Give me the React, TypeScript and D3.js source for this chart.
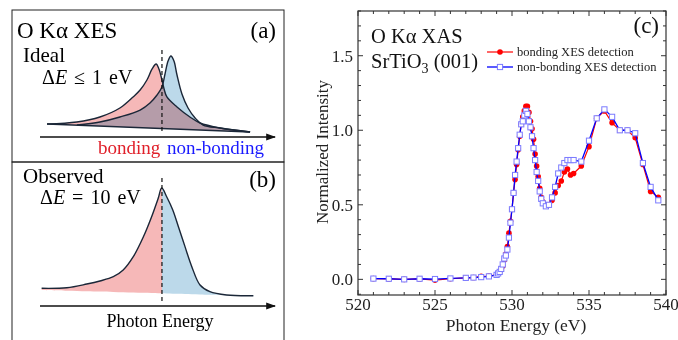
import * as d3 from "d3";

// ---- panel (c): O K-edge XAS ----
const energy = [
  521, 522, 523, 524, 525, 526, 527, 527.5, 528, 528.5,
  529, 529.1, 529.2, 529.3, 529.4, 529.5, 529.6, 529.7, 529.8, 529.9,
  530, 530.1, 530.2, 530.3, 530.4, 530.5, 530.6, 530.7, 530.8, 530.9,
  531, 531.1, 531.2, 531.3, 531.4, 531.5, 531.6, 531.7, 531.8, 531.9,
  532, 532.2, 532.4, 532.6, 532.8, 533, 533.2, 533.4, 533.6, 533.8,
  534, 534.5, 535, 535.5, 536, 536.5, 537, 537.5, 538, 538.5,
  539, 539.5,
];
const bondingXES = [
  0.005, 0.003, 0.0, 0.003, -0.005, 0.004, 0.01, 0.012, 0.02, 0.022,
  0.03, 0.04, 0.05, 0.07, 0.09, 0.13, 0.17, 0.22, 0.31, 0.39,
  0.47, 0.58, 0.67, 0.77, 0.87, 0.96, 1.04, 1.09, 1.13, 1.16,
  1.16, 1.12, 1.06, 1.01, 0.94, 0.84, 0.76, 0.69, 0.61, 0.55,
  0.52, 0.5, 0.5, 0.53, 0.58, 0.63, 0.66, 0.72, 0.74, 0.7,
  0.71, 0.76, 0.89, 1.08, 1.13, 1.05, 1.0, 1.0, 0.95, 0.77,
  0.59, 0.55,
];
const nonBondingXES = [
  0.005, 0.004, 0.0, 0.004, 0.002, 0.006, 0.01, 0.012, 0.015, 0.02,
  0.03, 0.04, 0.05, 0.07, 0.1, 0.14, 0.16, 0.2, 0.28, 0.38,
  0.47, 0.58, 0.7, 0.79, 0.88, 0.97, 1.04, 1.06, 1.1, 1.13,
  1.11, 1.06, 1.02, 0.96, 0.88, 0.8, 0.72, 0.66, 0.59, 0.54,
  0.51, 0.49, 0.5, 0.55, 0.62, 0.71, 0.75, 0.78, 0.8, 0.8,
  0.8, 0.79, 0.93, 1.08, 1.14, 1.09, 1.0, 1.0, 0.98, 0.78,
  0.62, 0.53,
];
const xTicks = [520, 525, 530, 535, 540];
const yTicks = [0, 0.5, 1.0, 1.5];
const yTickLabels = ["0.0", "0.5", "1.0", "1.5"];

// ---- panels (a)/(b): schematic emission lines, [energy, intensity] ----
const idealBonding: [number, number][] = [
  [3.0, 0.16], [15.7, 0.185], [25.5, 0.247], [34.0, 0.358], [39.6, 0.494],
  [42.6, 0.58], [45.5, 0.704], [47.7, 0.84], [49.4, 0.901], [50.6, 0.84],
  [51.9, 0.704], [52.8, 0.593], [54.0, 0.494], [58.3, 0.37], [63.8, 0.247],
  [68.1, 0.173], [76.6, 0.111], [89.4, 0.062],
];
const idealNonBonding: [number, number][] = [
  [15.7, 0.148], [25.5, 0.185], [34.0, 0.247], [42.6, 0.333], [46.8, 0.42],
  [49.8, 0.519], [51.9, 0.617], [53.2, 0.778], [54.5, 0.938], [55.7, 1.0],
  [57.0, 0.938], [58.3, 0.765], [60.4, 0.531], [63.0, 0.358], [66.0, 0.235],
  [69.4, 0.148], [76.6, 0.111], [89.4, 0.062],
];
const idealBase: [number, number][] = [[3.0, 0.16], [89.4, 0.062]];
const observed: [number, number][] = [
  [0.7, 0.15], [11.4, 0.155], [19.9, 0.186], [25.5, 0.212], [31.2, 0.248],
  [35.4, 0.305], [39.7, 0.418], [44.0, 0.587], [47.5, 0.757], [50.3, 0.913],
  [51.8, 1.0], [53.9, 0.926], [56.5, 0.814], [58.9, 0.672], [61.7, 0.503],
  [64.6, 0.333], [68.1, 0.178], [72.3, 0.121], [79.4, 0.093], [90.8, 0.087],
];
const observedBase: [number, number][] = [[0.7, 0.136], [90.8, 0.085]];
const splitEnergy = 51.9;

const FONT = "'Liberation Serif', 'Times New Roman', serif";
const OUTLINE = "#1b2738";

function Schematic() {
  const sx = d3.scaleLinear().domain([0, 100]).range([40, 275]);
  const syA = d3.scaleLinear().domain([0, 1]).range([137, 56]);
  const syB = d3.scaleLinear().domain([0, 1]).range([306, 188]);

  const baseA = d3.scaleLinear().domain(idealBase.map((d) => d[0])).range(idealBase.map((d) => d[1]));
  const baseB = d3.scaleLinear().domain(observedBase.map((d) => d[0])).range(observedBase.map((d) => d[1]));

  const curve = d3.curveCatmullRom.alpha(0.5);
  const lineA = d3.line<[number, number]>().x((d) => sx(d[0])).y((d) => syA(d[1])).curve(curve);
  const areaA = d3
    .area<[number, number]>()
    .x((d) => sx(d[0]))
    .y1((d) => syA(d[1]))
    .y0((d) => syA(baseA(d[0])))
    .curve(curve);
  const lineB = d3.line<[number, number]>().x((d) => sx(d[0])).y((d) => syB(d[1])).curve(curve);
  const areaB = d3
    .area<[number, number]>()
    .x((d) => sx(d[0]))
    .y1((d) => syB(d[1]))
    .y0((d) => syB(baseB(d[0])))
    .curve(curve);

  const xs = sx(splitEnergy);

  return (
    <g fontFamily={FONT}>
      <defs>
        <marker id="arr" viewBox="0 0 10 10" refX="9" refY="5" markerWidth="7" markerHeight="7" orient="auto">
          <path d="M0,1.5 L10,5 L0,8.5 Z" fill="#111" />
        </marker>
        <clipPath id="leftOf">
          <rect x={0} y={160} width={xs} height={180} />
        </clipPath>
        <clipPath id="rightOf">
          <rect x={xs} y={160} width={300} height={180} />
        </clipPath>
      </defs>

      {/* frames */}
      <rect x={12} y={10} width={272} height={152} fill="none" stroke="#222" strokeWidth={1} />
      <rect x={12} y={162} width={272} height={190} fill="none" stroke="#222" strokeWidth={1} />

      {/* (a) */}
      <text x={17} y={38} fontSize={23}>O K&#945; XES</text>
      <text x={276} y={38} fontSize={23} textAnchor="end">(a)</text>
      <text x={23} y={62} fontSize={21}>Ideal</text>
      <text x={42} y={84} fontSize={20} style={{ whiteSpace: "pre" }}>
        &#916;<tspan fontStyle="italic">E</tspan>
        <tspan dx={7}>&#8804;</tspan>
        <tspan dx={7}>1</tspan>
        <tspan dx={7}>eV</tspan>
      </text>

      <path d={areaA(idealNonBonding) ?? ""} fill="#bcd9ea" />
      <path d={areaA(idealBonding) ?? ""} fill="#f6b8b8" style={{ mixBlendMode: "multiply" }} />
      <path d={lineA(idealBase) ?? ""} fill="none" stroke={OUTLINE} strokeWidth={1.5} />
      <path d={lineA(idealNonBonding) ?? ""} fill="none" stroke={OUTLINE} strokeWidth={1.4} />
      <path d={lineA(idealBonding) ?? ""} fill="none" stroke={OUTLINE} strokeWidth={1.4} />
      <line x1={xs} x2={xs} y1={syA(1.074)} y2={syA(0.049)} stroke="#111" strokeWidth={1.2} strokeDasharray="4,3" />
      <line x1={sx(0)} x2={sx(100)} y1={syA(0)} y2={syA(0)} stroke="#111" strokeWidth={1.4} markerEnd="url(#arr)" />
      <text x={98} y={154} fontSize={19} fill="#e0202a">bonding</text>
      <text x={167} y={154} fontSize={19} fill="#1a1aff">non-bonding</text>

      {/* (b) */}
      <text x={23} y={183} fontSize={21}>Observed</text>
      <text x={40} y={204} fontSize={20} style={{ whiteSpace: "pre" }}>
        &#916;<tspan fontStyle="italic">E</tspan>
        <tspan dx={7}>=</tspan>
        <tspan dx={7}>10</tspan>
        <tspan dx={7}>eV</tspan>
      </text>
      <text x={276} y={187} fontSize={23} textAnchor="end">(b)</text>

      <path d={areaB(observed) ?? ""} fill="#f6b8b8" clipPath="url(#leftOf)" />
      <path d={areaB(observed) ?? ""} fill="#bcd9ea" clipPath="url(#rightOf)" />
      <path d={lineB(observed) ?? ""} fill="none" stroke={OUTLINE} strokeWidth={1.4} />
      <line x1={xs} x2={xs} y1={syB(1.085)} y2={syB(0.025)} stroke="#111" strokeWidth={1.2} strokeDasharray="4,3" />
      <line x1={sx(0)} x2={sx(100)} y1={syB(0)} y2={syB(0)} stroke="#111" strokeWidth={1.4} markerEnd="url(#arr)" />
      <text x={160} y={327} fontSize={18} textAnchor="middle">Photon Energy</text>
    </g>
  );
}

function XasChart() {
  const left = 358, right = 666, top = 11, bottom = 295;
  const x = d3.scaleLinear().domain([520, 540]).range([left, right]);
  const y = d3.scaleLinear().domain([-0.105, 1.8]).range([bottom, top]);

  const pts = (vals: number[]) => energy.map((e, i) => [e, vals[i]] as [number, number]);
  const line = d3.line<[number, number]>().x((d) => x(d[0])).y((d) => y(d[1]));

  const red = pts(bondingXES);
  const blue = pts(nonBondingXES);

  const xMinor = d3.range(520, 541, 1);
  const yMinor = d3.range(-1, 19).map((i) => i / 10);
  const axisColor = "#333";

  return (
    <g fontFamily={FONT}>
      {/* minor/major ticks, inward on all sides */}
      {xMinor.map((v) => {
        const major = v % 5 === 0;
        const len = major ? 5 : 3;
        return (
          <g key={"xt" + v} stroke={axisColor} strokeWidth={1}>
            <line x1={x(v)} x2={x(v)} y1={bottom} y2={bottom - len} />
            <line x1={x(v)} x2={x(v)} y1={top} y2={top + len} />
          </g>
        );
      })}
      {yMinor.map((v) => {
        const major = Math.abs((v * 10) % 5) < 1e-6;
        const len = major ? 5 : 3;
        return (
          <g key={"yt" + v} stroke={axisColor} strokeWidth={1}>
            <line x1={left} x2={left + len} y1={y(v)} y2={y(v)} />
            <line x1={right} x2={right - len} y1={y(v)} y2={y(v)} />
          </g>
        );
      })}
      <rect x={left} y={top} width={right - left} height={bottom - top} fill="none" stroke={axisColor} strokeWidth={1.2} />

      {xTicks.map((v) => (
        <text key={"xl" + v} x={x(v)} y={310} fontSize={17} textAnchor="middle" fill="#222">
          {v}
        </text>
      ))}
      {yTicks.map((v, i) => (
        <text key={"yl" + v} x={353} y={y(v) + 6} fontSize={17} textAnchor="end" fill="#222">
          {yTickLabels[i]}
        </text>
      ))}
      <text x={516} y={331} fontSize={17.5} textAnchor="middle" fill="#222">Photon Energy (eV)</text>
      <text transform={`translate(328,152) rotate(-90)`} fontSize={17} textAnchor="middle" fill="#222">
        Normalized Intensity
      </text>

      {/* series */}
      <path d={line(red) ?? ""} fill="none" stroke="#ff0000" strokeWidth={1.2} />
      {red.map((d, i) => (
        <circle key={"r" + i} cx={x(d[0])} cy={y(d[1])} r={2.8} fill="#ff0000" />
      ))}
      <path d={line(blue) ?? ""} fill="none" stroke="#0000ff" strokeWidth={1.3} />
      {blue.map((d, i) => (
        <rect key={"b" + i} x={x(d[0]) - 2.6} y={y(d[1]) - 2.6} width={5.2} height={5.2} fill="#fff" stroke="#7b7bff" strokeWidth={1} />
      ))}

      {/* annotations */}
      <text x={371} y={43} fontSize={20.5} fill="#111">O K&#945; XAS</text>
      <text x={371} y={68} fontSize={20.5} fill="#111">
        SrTiO<tspan fontSize={14} dy={5}>3</tspan>
        <tspan dy={-5}> (001)</tspan>
      </text>
      <text x={659} y={33} fontSize={23} textAnchor="end" fill="#111">(c)</text>

      {/* legend */}
      <line x1={487} x2={513} y1={52} y2={52} stroke="#ff0000" strokeWidth={1.2} />
      <circle cx={500} cy={52} r={2.8} fill="#ff0000" />
      <text x={517} y={56} fontSize={12.5} fill="#222">bonding XES detection</text>
      <line x1={487} x2={513} y1={67} y2={67} stroke="#0000ff" strokeWidth={1.3} />
      <rect x={497.4} y={64.4} width={5.2} height={5.2} fill="#fff" stroke="#7b7bff" strokeWidth={1} />
      <text x={517} y={71} fontSize={12.5} fill="#222">non-bonding XES detection</text>
    </g>
  );
}

export default function App() {
  return (
    <svg
      width={678}
      height={340}
      style={{ position: "absolute", left: 0, top: 0, background: "#fff" }}
    >
      <rect width={678} height={340} fill="#fff" />
      <Schematic />
      <XasChart />
    </svg>
  );
}
